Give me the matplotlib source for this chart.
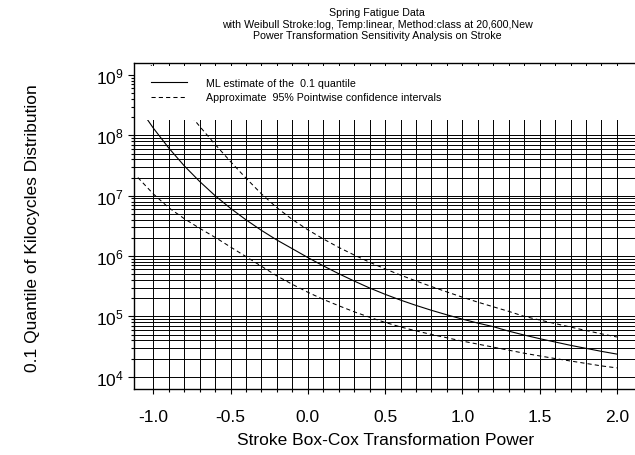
import matplotlib
matplotlib.use("Agg")
from matplotlib import pyplot as plt
from matplotlib.patches import Rectangle
from matplotlib.ticker import FixedLocator, LogFormatterSciNotation, NullFormatter

plt.rcParams["font.family"] = ["Liberation Sans", "DejaVu Sans"]
plt.rcParams["axes.unicode_minus"] = False
plt.rcParams["mathtext.default"] = "regular"

# Box-Cox power for stroke
power = [-1.1, -1.0, -0.9, -0.8, -0.7, -0.6, -0.5, -0.4, -0.3, -0.2, -0.1,
         0.0, 0.1, 0.2, 0.3, 0.4, 0.5, 0.6, 0.7, 0.8, 0.9, 1.0,
         1.1, 1.2, 1.3, 1.4, 1.5, 1.6, 1.7, 1.8, 1.9, 2.0]

# ML estimate of the 0.1 quantile (kilocycles)
ml_quantile = [3.09e8, 1.32e8, 6.17e7, 3.13e7, 1.72e7, 1.0e7, 6.17e6, 3.98e6, 2.66e6, 1.84e6, 1.32e6,
               9.44e5, 6.87e5, 5.09e5, 3.85e5, 2.95e5, 2.32e5, 1.86e5, 1.52e5, 1.26e5, 1.06e5, 9.0e4,
               7.74e4, 6.75e4, 5.69e4, 4.90e4, 4.27e4, 3.76e4, 3.31e4, 2.95e4, 2.63e4, 2.37e4]

# approximate 95% pointwise confidence bounds
upper_ci = [2.82e9, 1.29e9, 6.03e8, 2.88e8, 1.41e8, 7.08e7, 3.67e7, 1.95e7, 1.07e7, 6.31e6, 4.03e6,
            2.72e6, 1.92e6, 1.39e6, 1.04e6, 7.89e5, 6.12e5, 4.83e5, 3.86e5, 3.12e5, 2.54e5, 2.08e5,
            1.72e5, 1.44e5, 1.21e5, 1.0e5, 8.71e4, 7.59e4, 6.65e4, 5.83e4, 5.13e4, 4.55e4]
lower_ci = [2.0e7, 1.07e7, 6.31e6, 4.17e6, 2.88e6, 2.04e6, 1.41e6, 9.77e5, 6.76e5, 4.68e5, 3.39e5,
            2.51e5, 1.91e5, 1.50e5, 1.19e5, 9.66e4, 7.94e4, 6.68e4, 5.75e4, 5.01e4, 4.42e4, 3.89e4,
            3.47e4, 3.09e4, 2.75e4, 2.45e4, 2.21e4, 2.0e4, 1.82e4, 1.66e4, 1.51e4, 1.40e4]

x_major = [-1.0, -0.5, 0.0, 0.5, 1.0, 1.5, 2.0]
x_minor = [round(-1.0 + 0.1 * i, 1) for i in range(31)]
y_major = [1e4, 1e5, 1e6, 1e7, 1e8, 1e9]
y_minor = [m * 10 ** k for k in range(4, 9) for m in range(2, 10)]

fig = plt.figure(figsize=(6.35, 4.56), dpi=100)
ax = fig.add_axes([0.2115, 0.1447, 0.790, 0.7149])

dash = (0, (4, 3))
l_ml, = ax.plot(power, ml_quantile, color="black", lw=0.8, zorder=2)
l_up, = ax.plot(power, upper_ci, color="black", lw=0.75, linestyle=dash, zorder=2)
ax.plot(power, lower_ci, color="black", lw=0.75, linestyle=dash, zorder=2)

ax.set_yscale("log")
ax.set_xlim(-1.123, 2.123)
ax.set_ylim(10 ** 3.796, 10 ** 9.199)

ax.xaxis.set_major_locator(FixedLocator(x_major))
ax.xaxis.set_minor_locator(FixedLocator(x_minor))
ax.yaxis.set_major_locator(FixedLocator(y_major))
ax.yaxis.set_major_formatter(LogFormatterSciNotation())
ax.yaxis.set_minor_locator(FixedLocator(y_minor))
ax.yaxis.set_minor_formatter(NullFormatter())

ax.set_axisbelow(True)
ax.grid(True, which="both", color="black", lw=0.7)
ax.tick_params(axis="x", which="major", length=3.6, width=0.8, pad=11, labelsize=12.5)
ax.tick_params(axis="x", which="minor", length=2.2, width=0.8)
ax.tick_params(axis="y", which="major", length=4.3, width=0.8, pad=3.5, labelsize=12.5)
ax.tick_params(axis="y", which="minor", length=2.5, width=0.8)
ax.spines["right"].set_visible(False)
for s in ["left", "bottom", "top"]:
    ax.spines[s].set_linewidth(1.0)

# white band behind the legend hides the grid and curves
ax.add_patch(Rectangle((0, 0.8267), 1, 0.1645, transform=ax.transAxes,
                       facecolor="white", edgecolor="none", zorder=2.4))

ax.legend([l_ml, l_up],
          ["ML estimate of the  0.1 quantile", "Approximate  95% Pointwise confidence intervals"],
          loc="upper left", bbox_to_anchor=(0.034, 0.954), frameon=False, fontsize=7.7,
          handlelength=3.3, handletextpad=1.8, labelspacing=0.4, borderpad=0, borderaxespad=0)

###
# Titles/Labels
fig.text(0.594, 1 - 13 / 456, "Spring Fatigue Data", ha="center", va="center", fontsize=7.7)
fig.text(0.594, 1 - 24.5 / 456, "with Weibull Stroke:log, Temp:linear, Method:class at 20,600,New",
         ha="center", va="center", fontsize=7.7)
fig.text(0.594, 1 - 36 / 456, "Power Transformation Sensitivity Analysis on Stroke",
         ha="center", va="center", fontsize=7.7)
fig.text(0.607, 1 - 441 / 456, "Stroke Box-Cox Transformation Power", ha="center", va="center", fontsize=12.5)
fig.text(33 / 635, 1 - 228 / 456, "0.1 Quantile of Kilocycles Distribution", ha="center", va="center",
         rotation=90, fontsize=12.5)
#
###

fig.savefig("out.png", dpi=100)
